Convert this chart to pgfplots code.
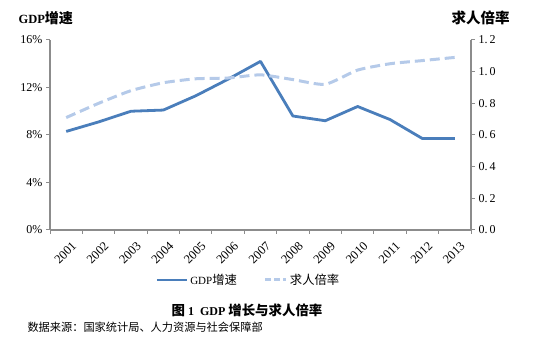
\documentclass[border=0pt]{standalone}
\usepackage{fontspec}
\setmainfont{Liberation Serif}
\newfontfamily\cjk[Scale=1.12]{Noto Sans CJK SC}
\usepackage{pgfplots}
\pgfplotsset{compat=1.18}
\pgfplotsset{shortleg/.style={legend image code/.code={\draw[##1, dash pattern=on 6pt off 3pt] (0pt,0pt) -- (21pt,0pt);}}}
\definecolor{gdpc}{HTML}{4A7EBB}
\definecolor{ratc}{HTML}{B5CAE9}
\definecolor{axc}{HTML}{8C8C8C}
\begin{document}
\begin{tikzpicture}
\path[use as bounding box] (0,0) rectangle (550pt,350pt);
\begin{axis}[
  at={(50pt,120pt)}, anchor=south west,
  scale only axis, width=421pt, height=190pt,
  xmin=0, xmax=13, ymin=0, ymax=16,
  axis y line*=left, axis x line*=bottom,
  axis line style={axc, line width=1.3pt, -},
  every tick/.style={axc, line width=1pt},
  tick align=outside, major tick length=4pt, minor tick length=4pt,
  xtick={0.5,1.5,...,12.5},
  xticklabels={2001,2002,2003,2004,2005,2006,2007,2008,2009,2010,2011,2012,2013},
  major x tick style={draw=none},
  minor xtick={0,...,13},
  minor x tick style={draw=axc, line width=1pt},
  xticklabel style={rotate=45, anchor=north east, font=\fontsize{12.5}{14}\selectfont, xshift=2pt, yshift=-5pt},
  ytick={0,4,8,12,16},
  yticklabels={0\%,4\%,8\%,12\%,16\%},
  yticklabel style={font=\fontsize{12}{14}\selectfont},
  /pgf/number format/assume math mode=true,
  clip=false,
]
\addplot[gdpc, line width=2.8pt, line join=round] coordinates {
 (0.5,8.3) (1.5,9.1) (2.5,10.0) (3.5,10.1) (4.5,11.3) (5.5,12.7) (6.5,14.2)
 (7.5,9.6) (8.5,9.2) (9.5,10.4) (10.5,9.3) (11.5,7.7) (12.5,7.7)};
\end{axis}
\begin{axis}[
  at={(50pt,120pt)}, anchor=south west,
  scale only axis, width=421pt, height=190pt,
  xmin=0, xmax=13, ymin=0, ymax=1.2,
  axis y line*=right, axis x line=none,
  axis line style={axc, line width=1.3pt, -},
  every tick/.style={axc, line width=1pt},
  tick align=outside, major tick length=4pt,
  ytick={0,0.2,0.4,0.6,0.8,1.0,1.2},
  yticklabels={0.\,0,0.\,2,0.\,4,0.\,6,0.\,8,1.\,0,1.\,2},
  yticklabel style={font=\fontsize{12}{14}\selectfont},
  /pgf/number format/assume math mode=true,
  legend columns=2,
  legend style={at={(0.47,-0.263)}, anchor=center, draw=none, fill=none,
    font=\fontsize{11}{13}\selectfont, column sep=1pt,
    nodes={inner xsep=1pt},
    /tikz/every even column/.append style={column sep=26pt}},
  legend image code/.code={\draw[#1] (0pt,0pt) -- (30pt,0pt);},
  clip=false,
]
\addlegendimage{gdpc, line width=2.8pt}
\addlegendentry{GDP{\cjk 增速}}
\addplot[ratc, line width=3pt, dash pattern=on 10pt off 5pt, smooth, tension=0.35, shortleg] coordinates {
 (0.5,0.71) (1.5,0.80) (2.5,0.88) (3.5,0.93) (4.5,0.955) (5.5,0.96) (6.5,0.98)
 (7.5,0.95) (8.5,0.92) (9.5,1.01) (10.5,1.05) (11.5,1.07) (12.5,1.09)};
\addlegendentry{{\cjk 求人倍率}}
\end{axis}
\node[anchor=west, font=\fontsize{12.5}{14}\selectfont\bfseries] at (15pt,332pt) {GDP{\cjk 增速}};
\node[anchor=west, font=\fontsize{13}{15}\selectfont\bfseries] at (448pt,332pt) {\cjk 求人倍率};
\node[anchor=center, font=\fontsize{12}{14}\selectfont\bfseries] at (247pt,40pt) {{\cjk 图} 1\ \ GDP {\cjk 增长与求人倍率}};
\node[anchor=west, font=\fontsize{10}{12}\selectfont] at (24pt,23pt) {\cjk 数据来源：国家统计局、人力资源与社会保障部};
\end{tikzpicture}
\end{document}
